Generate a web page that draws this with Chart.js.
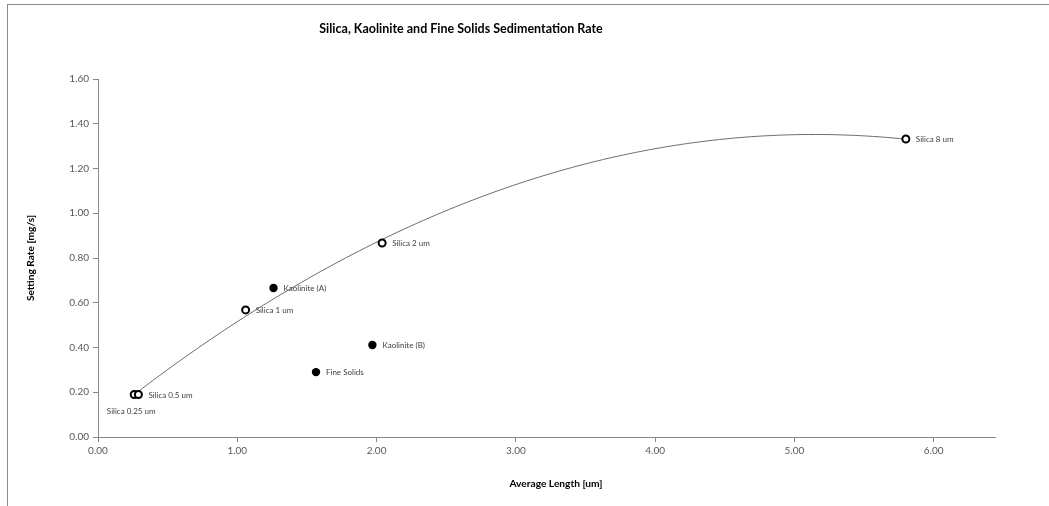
<!DOCTYPE html>
<html>
<head>
<meta charset="utf-8">
<script src="https://cdn.jsdelivr.net/npm/chart.js@4/dist/chart.umd.min.js"></script>
<style>
  html, body { margin: 0; padding: 0; background: #fff; }
  #wrap { width: 1049px; height: 506px; position: relative; }
</style>
</head>
<body>
<div id="wrap"><canvas id="c" width="1049" height="506"></canvas></div>
<script>
// Silica samples (open markers, fitted with a 2nd-order trendline)
const silicaNames = ['Silica 0.25 um', 'Silica 0.5 um', 'Silica 1 um', 'Silica 2 um', 'Silica 8 um'];
const silicaX = [0.26, 0.29, 1.06, 2.04, 5.80];
const silicaY = [0.19, 0.19, 0.568, 0.867, 1.332];

// Kaolinite and fine solids samples (filled markers)
const otherNames = ['Kaolinite (A)', 'Kaolinite (B)', 'Fine Solids'];
const otherX = [1.26, 1.97, 1.565];
const otherY = [0.666, 0.411, 0.29];

// Axis tick values
const xTicks = [0, 1, 2, 3, 4, 5, 6];
const yTicks = [0, 0.2, 0.4, 0.6, 0.8, 1.0, 1.2, 1.4, 1.6];

const FONT = 'Lato, "Open Sans", sans-serif';
const AXIS_GRAY = '#868686';

// Least-squares quadratic fit y = a + b x + c x^2
function quadFit(xs, ys) {
  const n = xs.length;
  let s = [0, 0, 0, 0, 0], t = [0, 0, 0];
  for (let i = 0; i < n; i++) {
    let p = 1;
    for (let k = 0; k < 5; k++) { s[k] += p; if (k < 3) t[k] += p * ys[i]; p *= xs[i]; }
  }
  const M = [[s[0], s[1], s[2], t[0]], [s[1], s[2], s[3], t[1]], [s[2], s[3], s[4], t[2]]];
  for (let i = 0; i < 3; i++) {
    for (let j = i + 1; j < 3; j++) {
      const f = M[j][i] / M[i][i];
      for (let k = i; k < 4; k++) M[j][k] -= f * M[i][k];
    }
  }
  const r = [0, 0, 0];
  for (let i = 2; i >= 0; i--) {
    let v = M[i][3];
    for (let k = i + 1; k < 3; k++) v -= M[i][k] * r[k];
    r[i] = v / M[i][i];
  }
  return r;
}

const coef = quadFit(silicaX, silicaY);
const xLo = Math.min(...silicaX), xHi = Math.max(...silicaX);
const trend = [];
for (let i = 0; i <= 120; i++) {
  const x = xLo + (xHi - xLo) * i / 120;
  trend.push({ x: x, y: coef[0] + coef[1] * x + coef[2] * x * x });
}

const silicaPts = silicaX.map((x, i) => ({ x: x, y: silicaY[i], name: silicaNames[i] }));
const otherPts = otherX.map((x, i) => ({ x: x, y: otherY[i], name: otherNames[i] }));

// Outer frame, titles and point labels
const decor = {
  id: 'decor',
  beforeDraw(chart) {
    const ctx = chart.ctx;
    ctx.save();
    ctx.fillStyle = '#fff';
    ctx.fillRect(0, 0, chart.width, chart.height);
    ctx.strokeStyle = '#8c8c8c';
    ctx.lineWidth = 1;
    ctx.strokeRect(7.5, 4.5, chart.width + 20, chart.height + 20);
    ctx.restore();
  },
  afterDraw(chart) {
    const ctx = chart.ctx;
    ctx.save();
    ctx.fillStyle = '#000';
    ctx.textAlign = 'center';
    ctx.textBaseline = 'middle';
    ctx.font = 'bold 12.5px ' + FONT;
    ctx.fillText('Silica, Kaolinite and Fine Solids Sedimentation Rate', 461, 29);
    ctx.font = 'bold 10.2px ' + FONT;
    ctx.fillText('Average Length [um]', 556, 484);
    ctx.save();
    ctx.translate(31, 258);
    ctx.rotate(-Math.PI / 2);
    ctx.fillText('Setting Rate [mg/s]', 0, 0);
    ctx.restore();

    // point labels
    ctx.font = '8px ' + FONT;
    ctx.fillStyle = '#404040';
    const xs = chart.scales.x, ys = chart.scales.y;
    const label = (p, first) => {
      const px = xs.getPixelForValue(p.x), py = ys.getPixelForValue(p.y);
      if (first) {
        ctx.textAlign = 'center';
        ctx.fillText(p.name, px - 3, py + 17);
      } else {
        ctx.textAlign = 'left';
        ctx.fillText(p.name, px + 10, py + 0.5);
      }
    };
    silicaPts.forEach((p, i) => label(p, i === 0));
    otherPts.forEach(p => label(p, false));
    ctx.restore();
  }
};

new Chart(document.getElementById('c'), {
  type: 'scatter',
  data: {
    datasets: [
      {
        label: 'Trend',
        type: 'line',
        data: trend,
        borderColor: '#6e6e6e',
        borderWidth: 1,
        pointRadius: 0,
        fill: false,
        order: 3
      },
      {
        label: 'Silica',
        data: silicaPts,
        pointStyle: 'circle',
        pointRadius: 3.5,
        pointBorderWidth: 2,
        pointBackgroundColor: '#fff',
        pointBorderColor: '#000',
        order: 1
      },
      {
        label: 'Kaolinite / Fine Solids',
        data: otherPts,
        pointStyle: 'circle',
        pointRadius: 4.2,
        pointBorderWidth: 0,
        pointBackgroundColor: '#000',
        pointBorderColor: '#000',
        order: 2
      }
    ]
  },
  options: {
    responsive: false,
    animation: false,
    devicePixelRatio: 1,
    layout: { padding: { left: 0, right: 54, top: 79, bottom: 29 } },
    plugins: {
      legend: { display: false },
      title: { display: false },
      tooltip: { enabled: false }
    },
    scales: {
      x: {
        type: 'linear',
        min: 0,
        max: 6.44,
        afterBuildTicks: s => { s.ticks = xTicks.map(v => ({ value: v })); },
        afterFit: s => { s.height = 40; },
        border: { color: AXIS_GRAY, width: 1 },
        grid: { drawOnChartArea: false, drawTicks: true, tickLength: 5, color: AXIS_GRAY },
        ticks: {
          padding: 3,
          color: '#595959',
          font: { family: FONT, size: 10 },
          maxRotation: 0,
          callback: v => Number(v).toFixed(2)
        }
      },
      y: {
        type: 'linear',
        min: 0,
        max: 1.6,
        afterBuildTicks: s => { s.ticks = yTicks.map(v => ({ value: v })); },
        afterFit: s => { s.width = 98; },
        border: { color: AXIS_GRAY, width: 1 },
        grid: { drawOnChartArea: false, drawTicks: true, tickLength: 5, color: AXIS_GRAY },
        ticks: {
          padding: 4,
          color: '#595959',
          font: { family: FONT, size: 10 },
          callback: v => Number(v).toFixed(2)
        }
      }
    }
  },
  plugins: [decor]
});
</script>
</body>
</html>
